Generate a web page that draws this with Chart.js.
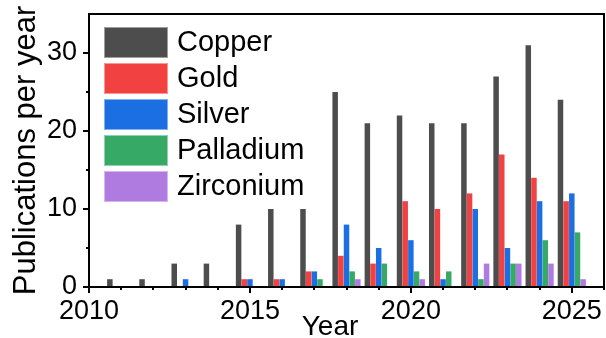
<!DOCTYPE html>
<html>
<head>
<meta charset="utf-8">
<script src="https://cdn.jsdelivr.net/npm/chart.js@4"></script>
<style>
  html, body { margin: 0; padding: 0; background: #fff; }
  #wrap { width: 606px; height: 338px; position: relative; }
</style>
</head>
<body>
<div id="wrap"><canvas id="chart"></canvas></div>
<script>
// Publications per year by metal
const years = [2011, 2012, 2013, 2014, 2015, 2016, 2017, 2018, 2019, 2020, 2021, 2022, 2023, 2024, 2025];
const copper    = [1, 1, 3, 3, 8, 10, 10, 25, 21, 22, 21, 21, 27, 31, 24];
const gold      = [0, 0, 0, 0, 1, 1, 2, 4, 3, 11, 10, 12, 17, 14, 11];
const silver    = [0, 0, 1, 0, 1, 1, 2, 8, 5, 6, 1, 10, 5, 11, 12];
const palladium = [0, 0, 0, 0, 0, 0, 1, 2, 3, 2, 2, 1, 3, 6, 7];
const zirconium = [0, 0, 0, 0, 0, 0, 0, 1, 0, 1, 0, 3, 3, 3, 1];

const seriesNames  = ['Copper', 'Gold', 'Silver', 'Palladium', 'Zirconium'];
const seriesValues = [copper, gold, silver, palladium, zirconium];
const seriesColors = ['#4d4d4d', '#f24141', '#1c6ee3', '#35a965', '#b07be0'];

const FONT = "'Liberation Sans', Arial, sans-serif";

// box round the plot, hand-drawn tick marks, legend inside the plot, x title
const framePlugin = {
    id: 'frame',
    afterDatasetsDraw(chart) {
        const ctx = chart.ctx;
        const area = chart.chartArea;
        const xs = chart.scales.x;
        const ys = chart.scales.y;
        ctx.save();
        ctx.strokeStyle = '#000';
        ctx.lineWidth = 2;

        // frame
        ctx.strokeRect(area.left, area.top, area.right - area.left, area.bottom - area.top);

        // x ticks: long every 5 years, short every year
        for (let v = xs.min; v <= xs.max; v++) {
            const px = Math.round(xs.getPixelForValue(v));
            const len = v % 5 === 0 ? 6 : 3;
            ctx.beginPath();
            ctx.moveTo(px, area.bottom);
            ctx.lineTo(px, area.bottom + len);
            ctx.stroke();
        }
        // y ticks: long every 10, short every 5
        for (let v = 0; v < ys.max; v += 5) {
            const py = Math.round(ys.getPixelForValue(v));
            const len = v % 10 === 0 ? 6 : 3;
            ctx.beginPath();
            ctx.moveTo(area.left, py);
            ctx.lineTo(area.left - len, py);
            ctx.stroke();
        }

        // legend
        const lx = area.left + 15;
        let ly = area.top + 13;
        ctx.font = '29px ' + FONT;
        ctx.textBaseline = 'middle';
        ctx.textAlign = 'left';
        chart.data.datasets.forEach(ds => {
            ctx.fillStyle = ds.backgroundColor;
            ctx.fillRect(lx, ly, 64, 31);
            ctx.lineWidth = 1;
            ctx.strokeStyle = 'rgba(255,255,255,0.45)';
            ctx.strokeRect(lx + 0.5, ly + 0.5, 63, 30);
            ctx.fillStyle = '#000';
            ctx.fillText(ds.label, lx + 73, ly + 16);
            ly += 36;
        });

        // x axis title
        ctx.font = '28px ' + FONT;
        ctx.textAlign = 'center';
        ctx.textBaseline = 'alphabetic';
        ctx.fillText('Year', 330, 335);
        ctx.restore();
    }
};

const datasets = seriesNames.map((name, i) => ({
    label: name,
    data: seriesValues[i],
    backgroundColor: seriesColors[i],
    borderWidth: 0,
    categoryPercentage: 0.88,
    barPercentage: 0.97
}));

new Chart(document.getElementById('chart'), {
    type: 'bar',
    data: { labels: years, datasets: datasets },
    plugins: [framePlugin],
    options: {
        responsive: true,
        maintainAspectRatio: false,
        animation: false,
        layout: { padding: { top: 14, right: 2, left: 0, bottom: 0 } },
        plugins: {
            legend: { display: false },
            tooltip: { enabled: false }
        },
        scales: {
            x: {
                type: 'linear',
                min: 2010,
                max: 2026,
                offset: false,
                grid: { display: false, drawTicks: false },
                border: { display: true, color: '#000', width: 2 },
                ticks: {
                    stepSize: 1,
                    autoSkip: false,
                    maxRotation: 0,
                    padding: 8,
                    color: '#000',
                    font: { family: FONT, size: 27 },
                    callback: v => (v % 5 === 0 && v < 2026 ? String(v) : '')
                },
                afterFit: s => {
                    s.height = 51;
                    s.paddingLeft = 0;
                    s.paddingRight = 0;
                }
            },
            y: {
                min: 0,
                max: 35,
                grid: { display: false, drawTicks: false },
                border: { display: true, color: '#000', width: 2 },
                ticks: {
                    stepSize: 5,
                    padding: 12,
                    color: '#000',
                    font: { family: FONT, size: 27 },
                    callback: v => (v % 10 === 0 ? String(v) : '')
                },
                title: {
                    display: true,
                    text: 'Publications per year',
                    color: '#000',
                    font: { family: FONT, size: 31 },
                    padding: { top: 8, bottom: 0 }
                },
                afterFit: s => {
                    s.width = 89;
                    s.paddingTop = 0;
                    s.paddingBottom = 0;
                }
            }
        }
    }
});
</script>
</body>
</html>
